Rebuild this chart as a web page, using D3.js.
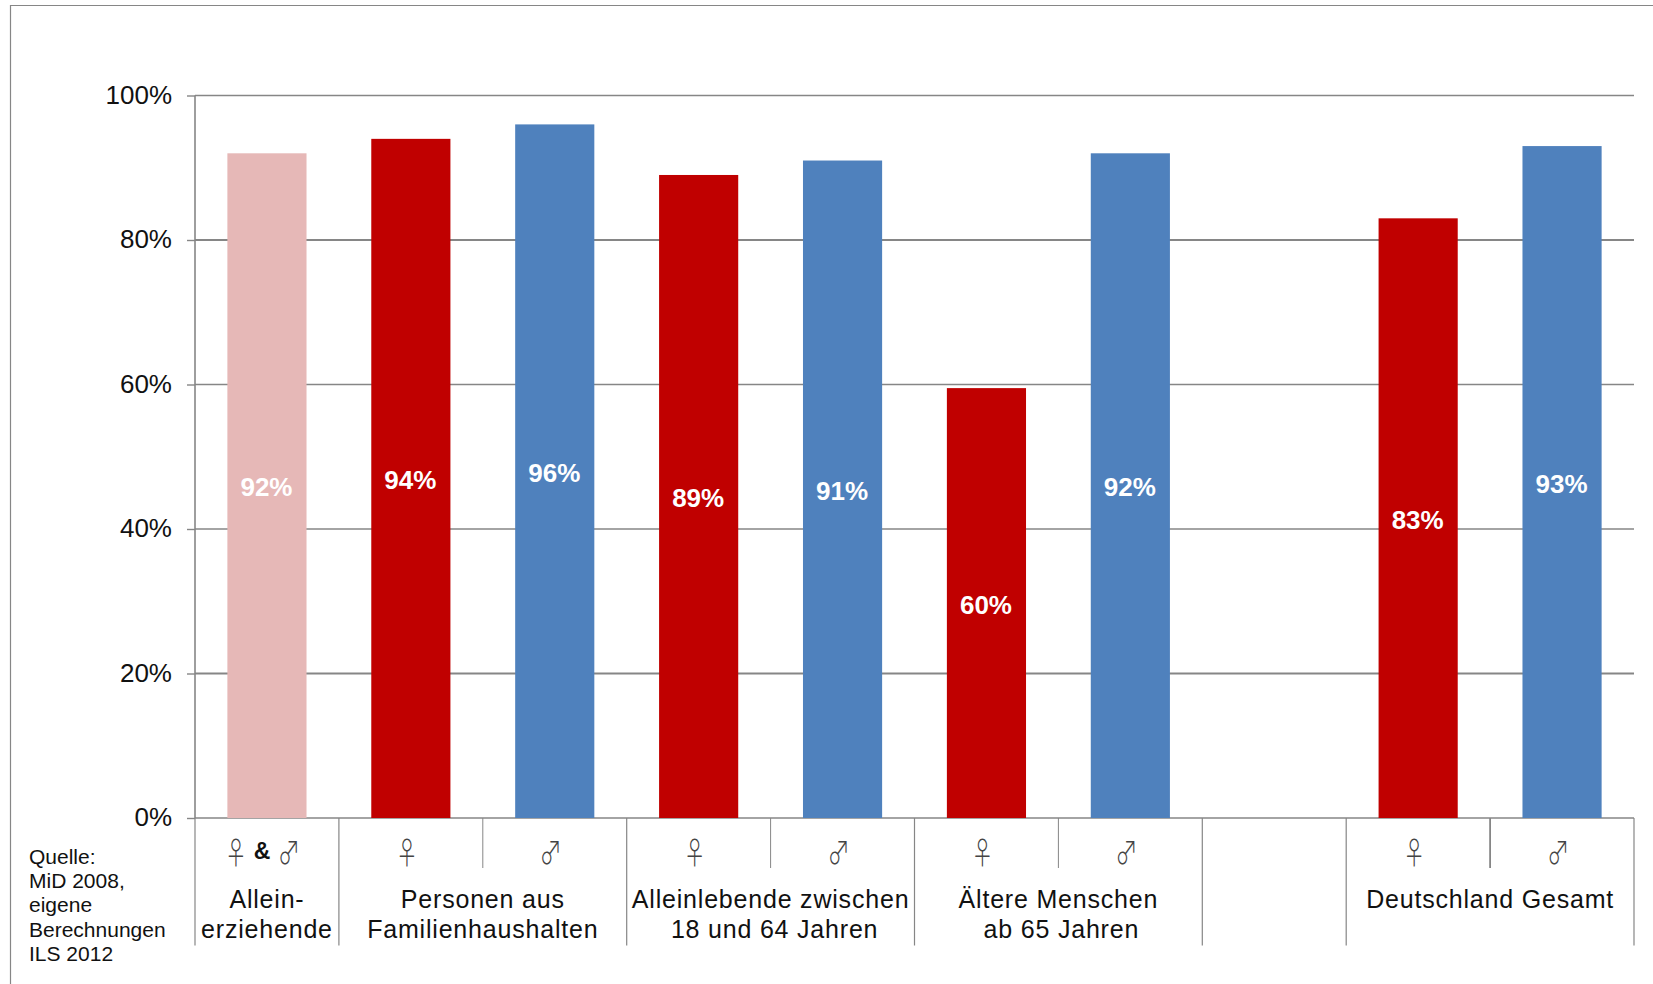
<!DOCTYPE html>
<html><head><meta charset="utf-8"><script src="https://cdn.jsdelivr.net/npm/d3@7"></script>
<style>html,body{margin:0;padding:0;background:#fff}svg{display:block}text{font-family:"Liberation Sans",Arial,sans-serif}</style></head>
<body><svg id="c" width="1653" height="984"></svg>
<script>
const slots = ["a","b","c","d","e","f","g","h","i","j"];
const slotValues = [92,94,96,89,91,59.5,92,null,83,93];
const slotLabels = ["92%","94%","96%","89%","91%","60%","92%","","83%","93%"];
const slotColors = ["#e6b8b7","#c00000","#4f81bd","#c00000","#4f81bd","#c00000","#4f81bd","none","#c00000","#4f81bd"];
const slotSymbols = ["","♀","♂","♀","♂","♀","♂","","♀","♂"];
const yTicks = [0,20,40,60,80,100];
const groups = [
 {from:"a",to:"a",lines:["Allein-","erziehende"]},
 {from:"b",to:"c",lines:["Personen aus","Familienhaushalten"]},
 {from:"d",to:"e",lines:["Alleinlebende zwischen","18 und 64 Jahren"]},
 {from:"f",to:"g",lines:["Ältere Menschen","ab 65 Jahren"]},
 {from:"h",to:"h",lines:[]},
 {from:"i",to:"j",lines:["Deutschland Gesamt"]}
];
const sourceLines = ["Quelle:","MiD 2008,","eigene","Berechnungen","ILS 2012"];
const GRAY="#868686";
const svg=d3.select("#c");
const x=d3.scaleBand().domain(slots).range([195,1634]).paddingInner(0.45).paddingOuter(0.225);
const step=x.step();
const left=k=>x(k)+x.bandwidth()/2-step/2;
const y=d3.scaleLinear().domain([0,100]).range([818,95.5]);
const SYM="Noto Sans CJK JP";

svg.append("path").attr("d","M10.5,984V5.5H1653").attr("fill","none").attr("stroke",GRAY).attr("stroke-width",1.2);

const ax=svg.append("g").attr("transform","translate(195,0)")
 .call(d3.axisLeft(y).tickValues(yTicks).tickFormat(d=>d+"%").tickSize(8).tickPadding(15));
ax.select(".domain").remove();
ax.selectAll(".tick line").attr("stroke",GRAY).attr("stroke-width",1.4);
ax.selectAll(".tick text").attr("font-size",26).attr("fill","#111").attr("font-family","Liberation Sans").attr("dy","0.3em");

svg.append("g").selectAll("line").data(yTicks).join("line")
 .attr("x1",195).attr("x2",1634).attr("y1",d=>y(d)).attr("y2",d=>y(d))
 .attr("stroke",GRAY).attr("stroke-width",d=>d===80||d===20?2:1.4);
svg.append("line").attr("x1",195).attr("x2",195).attr("y1",y(100)).attr("y2",y(0)).attr("stroke",GRAY).attr("stroke-width",1.6);

svg.append("g").selectAll("rect").data(slots.filter((s,i)=>slotValues[i]!=null)).join("rect")
 .attr("x",d=>x(d)).attr("width",x.bandwidth())
 .attr("y",d=>y(slotValues[slots.indexOf(d)])).attr("height",d=>y(0)-y(slotValues[slots.indexOf(d)]))
 .attr("fill",d=>slotColors[slots.indexOf(d)]);

svg.append("g").selectAll("text").data(slots.filter((s,i)=>slotValues[i]!=null)).join("text")
 .attr("x",d=>x(d)+x.bandwidth()/2-0.5)
 .attr("y",d=>(y(0)+y(slotValues[slots.indexOf(d)]))/2+10.5)
 .attr("text-anchor","middle").attr("font-size",26).attr("font-weight","bold").attr("fill","#fff")
 .text(d=>slotLabels[slots.indexOf(d)]);

const seps=svg.append("g").attr("stroke",GRAY);
groups.forEach(g=>{
  seps.append("line").attr("x1",left(g.from)).attr("x2",left(g.from)).attr("y1",y(0)).attr("y2",945.5).attr("stroke-width",1.2);
  if(g.from!==g.to){
    const mx=left(g.to);
    seps.append("line").attr("x1",mx).attr("x2",mx).attr("y1",y(0)).attr("y2",868).attr("stroke-width",g.to==="j"?1.8:1);
  }
});
seps.append("line").attr("x1",1634).attr("x2",1634).attr("y1",y(0)).attr("y2",945.5).attr("stroke-width",1.2);

const sym=svg.append("g");
const drawSym=(cx,t)=>sym.append("text").attr("transform",`translate(${cx},864) scale(0.72,1)`).attr("text-anchor","middle")
   .attr("font-size",31).attr("font-weight",300).attr("fill","#444").style("font-family",SYM).text(t);
slots.forEach((s,i)=>{ if(!slotSymbols[i])return; drawSym(left(s)+step/2-4,slotSymbols[i]); });
const c0=left("a")+step/2;
drawSym(c0-31,"♀");
sym.append("text").attr("x",c0-5).attr("y",859).attr("text-anchor","middle").attr("font-size",23).attr("font-weight","bold").attr("fill","#111").text("&");
drawSym(c0+22,"♂");

groups.forEach(g=>{
  const cx=(left(g.from)+left(g.to)+step)/2;
  g.lines.forEach((l,i)=>{
    const shift=(i===1&&(g.from==="d"||g.from==="f"))?(g.from==="d"?4:3):0;
    svg.append("text").attr("x",cx+shift).attr("y",907.5+i*30.5).attr("text-anchor","middle")
     .attr("font-size",25).attr("letter-spacing",0.8).attr("fill","#111").text(l);
  });
});

svg.append("g").selectAll("text").data(sourceLines).join("text")
 .attr("x",29).attr("y",(d,i)=>864+i*24.2).attr("font-size",21).attr("fill","#111").text(d=>d);
</script></body></html>
